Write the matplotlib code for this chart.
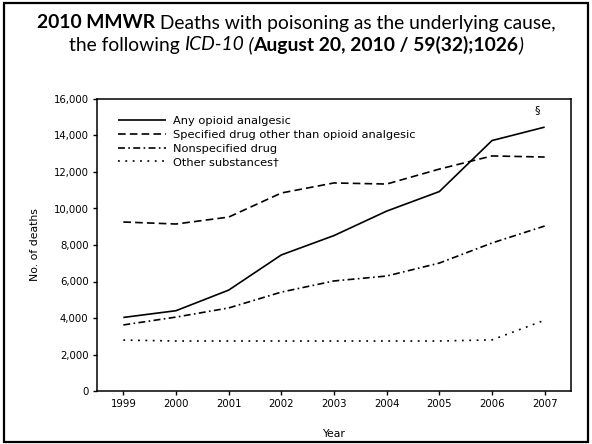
import matplotlib
matplotlib.use("Agg")
import matplotlib.pyplot as plt
from matplotlib.patches import Rectangle

# Deaths with poisoning as the underlying cause, by drug type
years = [1999, 2000, 2001, 2002, 2003, 2004, 2005, 2006, 2007]
opioid = [4030, 4400, 5528, 7456, 8517, 9857, 10928, 13723, 14459]
specified_other = [9260, 9150, 9530, 10850, 11400, 11340, 12160, 12880, 12820]
nonspecified = [3620, 4050, 4550, 5420, 6030, 6300, 7010, 8110, 9040]
other_substances = [2790, 2740, 2740, 2740, 2740, 2740, 2740, 2800, 3880]

series_labels = [
    "Any opioid analgesic",
    "Specified drug other than opioid analgesic",
    "Nonspecified drug",
    "Other substances\u2020",
]
y_ticks = [0, 2000, 4000, 6000, 8000, 10000, 12000, 14000, 16000]

plt.rcParams["lines.scale_dashes"] = False
plt.rcParams["font.family"] = ["DejaVu Sans"]

W, H, DPI = 592, 444, 100
fig = plt.figure(figsize=(W / DPI, H / DPI), dpi=DPI)
fig.patch.set_facecolor("white")

# outer frame
fig.add_artist(Rectangle((4 / W, 2 / H), 584 / W, 439 / H, transform=fig.transFigure,
                         fill=False, edgecolor="black", lw=1.6))

ax = fig.add_axes([97 / W, 1 - 391 / H, 474 / W, 292 / H])
styles = [
    dict(linestyle="-"),
    dict(linestyle=(0, (5.5, 3.0))),
    dict(linestyle=(0, (5.0, 2.4, 1.2, 2.4))),
    dict(linestyle=(0, (1.3, 4.0))),
]
for vals, lab, st in zip([opioid, specified_other, nonspecified, other_substances],
                         series_labels, styles):
    ax.plot(years, vals, color="black", lw=1.2, label=lab, solid_capstyle="butt",
            dash_capstyle="butt", **st)

ax.set_xlim(1998.5, 2007.5)
ax.set_ylim(0, 16000)
ax.set_xticks(years)
ax.set_xticklabels([str(y) for y in years])
ax.set_yticks(y_ticks)
ax.set_yticklabels([f"{v:,}" for v in y_ticks])
ax.tick_params(axis="both", direction="out", length=3, width=1.0, labelsize=7.3,
               colors="black", pad=3)
for s in ax.spines.values():
    s.set_linewidth(1.1)
    s.set_color("black")
ax.set_xlabel("Year", fontsize=7.8, labelpad=14)
ax.set_ylabel("No. of deaths", fontsize=7.8, labelpad=10)

leg = ax.legend(loc="upper left", bbox_to_anchor=(0.035, 0.957), frameon=False,
                fontsize=8.2, handlelength=4.2, handletextpad=0.6, labelspacing=0.33,
                borderaxespad=0.0)

ax.text(2006.85, 15400, "\u00a7", fontsize=8, ha="center", va="center")

# title with mixed weights and slants, centred line by line
title_lines = [
    [("2010 MMWR", "bold", "normal"), (" Deaths with poisoning as the underlying cause,", "normal", "normal")],
    [("the following ", "normal", "normal"), ("ICD-10", "normal", "italic"), (" (", "normal", "italic"),
     ("August 20, 2010 / 59(32);1026", "bold", "normal"), (")", "normal", "italic")],
]
line_y = [1 - 23 / H, 1 - 45 / H]
renderer = fig.canvas.get_renderer()
for parts, yy in zip(title_lines, line_y):
    texts = []
    for s, w, st in parts:
        t = fig.text(0, yy, s, fontsize=13.9, fontweight=w, fontstyle=st,
                     family=["Lato", "DejaVu Sans"], va="center", ha="left")
        texts.append(t)
    widths = [t.get_window_extent(renderer).width for t in texts]
    total = sum(widths)
    x = (W - total) / 2
    for t, wd in zip(texts, widths):
        t.set_x(x / W)
        x += wd

fig.savefig("out.png", dpi=DPI, facecolor="white")
